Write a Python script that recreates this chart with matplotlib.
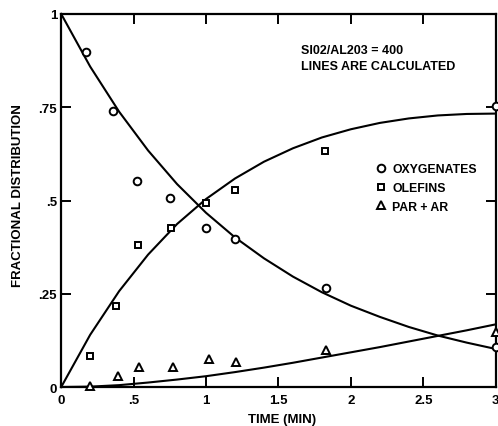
import matplotlib
matplotlib.use("Agg")
import matplotlib.pyplot as plt

plt.rcParams['font.family'] = ['Liberation Sans', 'DejaVu Sans']
plt.rcParams['font.weight'] = 'bold'

# measured points
oxy_t = [0.17, 0.36, 0.52, 0.75, 1.0, 1.2, 1.83, 3.0, 3.0]
oxy_y = [0.898, 0.741, 0.552, 0.507, 0.425, 0.396, 0.266, 0.106, 0.752]
ole_t = [0.2, 0.38, 0.53, 0.755, 1.0, 1.2, 1.82]
ole_y = [0.083, 0.218, 0.382, 0.427, 0.492, 0.529, 0.634]
par_t = [0.2, 0.39, 0.54, 0.77, 1.02, 1.21, 1.83, 3.0]
par_y = [0.003, 0.029, 0.054, 0.054, 0.074, 0.066, 0.10, 0.147]

# calculated lines
calc_t = [0, 0.2, 0.4, 0.6, 0.8, 1.0, 1.2, 1.4, 1.6, 1.8, 2.0, 2.2, 2.4, 2.6, 2.8, 3.0]
calc_oxy = [1.0, 0.859, 0.738, 0.634, 0.544, 0.467, 0.401, 0.345, 0.296, 0.254,
            0.218, 0.188, 0.161, 0.138, 0.119, 0.102]
calc_ole = [0.0, 0.140, 0.257, 0.355, 0.437, 0.504, 0.559, 0.604, 0.640, 0.669,
            0.691, 0.708, 0.720, 0.728, 0.732, 0.733]
calc_par = [0.0, 0.001, 0.005, 0.012, 0.020, 0.029, 0.040, 0.052, 0.065, 0.079,
            0.093, 0.107, 0.122, 0.137, 0.152, 0.168]

xticks = [0, 0.5, 1, 1.5, 2, 2.5, 3]
xlabels = ['0', '.5', '1', '1.5', '2', '2.5', '3']
yticks = [0, 0.25, 0.5, 0.75, 1]
ylabels = ['0', '.25', '.5', '.75', '1']

fig = plt.figure(figsize=(4.98, 4.27), dpi=100)
ax = fig.add_axes([0.1229, 0.0913, 0.8725, 0.8736])

for yy in (calc_oxy, calc_ole, calc_par):
    ax.plot(calc_t, yy, color='black', lw=1.5, clip_on=False)

mk = dict(linestyle='none', mfc='white', mec='black', mew=1.4, clip_on=False, zorder=5)
ax.plot(oxy_t, oxy_y, marker='o', ms=5.5, label='OXYGENATES', **mk)
ax.plot(ole_t, ole_y, marker='s', ms=4.5, label='OLEFINS', **mk)
ax.plot(par_t, par_y, marker='^', ms=5.5, label='PAR + AR', **mk)

ax.set_xlim(0, 3)
ax.set_ylim(0, 1)
ax.set_xticks(xticks)
ax.set_xticklabels(xlabels, fontweight='bold')
ax.set_yticks(yticks)
ax.set_yticklabels(ylabels, fontweight='bold')
ax.tick_params(direction='in', length=7, width=1.4, top=True, right=True,
               labelsize=9.5)
ax.tick_params(axis='x', pad=5)
ax.tick_params(axis='y', pad=3)
for s in ax.spines.values():
    s.set_linewidth(1.6)

ax.set_xlabel('TIME (MIN)', fontsize=9.5, fontweight='bold')
ax.xaxis.set_label_coords(0.508, -0.07)
ax.set_ylabel('FRACTIONAL DISTRIBUTION', fontsize=9.5, fontweight='bold')
ax.yaxis.set_label_coords(-0.086, 0.517)

ax.text(0.551, 0.92, 'SI02/AL203 = 400\nLINES ARE CALCULATED', transform=ax.transAxes,
        fontsize=9, fontweight='bold', va='top', ha='left', linespacing=1.45)

ax.legend(loc='upper left', bbox_to_anchor=(0.728, 0.60), frameon=False,
          handlelength=0.6, handletextpad=0.6, labelspacing=0.55,
          prop={'size': 8.8, 'weight': 'bold'}, borderaxespad=0, borderpad=0)

fig.savefig('out.png', dpi=100)
